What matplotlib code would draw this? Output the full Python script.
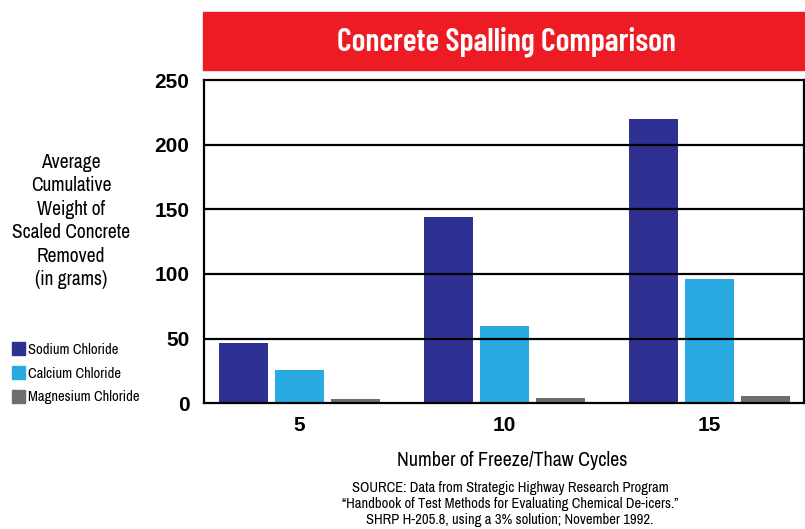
import matplotlib
matplotlib.use("Agg")
import numpy as np
import matplotlib.pyplot as plt
from matplotlib.patches import Rectangle

# data
cycles = ["5", "10", "15"]
sodium = [47, 144, 220]
calcium = [26, 60, 96]
magnesium = [3.3, 4.1, 5.6]
series_names = ["Sodium Chloride", "Calcium Chloride", "Magnesium Chloride"]
colors = ["#2E3192", "#29ABE2", "#6D6E71"]
yticks = [0, 50, 100, 150, 200, 250]

narrow = ["Archivo Narrow", "Liberation Sans", "DejaVu Sans"]
narrow_bold = ["Barlow Condensed", "PT Sans Narrow", "Liberation Sans", "DejaVu Sans"]
wide = ["Liberation Sans", "DejaVu Sans"]

fig = plt.figure(figsize=(8.05, 5.29), dpi=100)
ax = fig.add_axes([203.5 / 805, 1 - 403.3 / 529, 600.5 / 805, 323.3 / 529])

x = np.arange(len(cycles))
width = 0.239
step = 0.273
for i, vals in enumerate([sodium, calcium, magnesium]):
    ax.bar(x + (i - 1) * step, vals, width, color=colors[i], zorder=1)

ax.set_xlim(-0.467, 2.461)
ax.set_ylim(0, 250)
ax.set_yticks(yticks)
ax.set_yticklabels([str(v) for v in yticks], fontsize=15, fontweight="bold", family=wide)
ax.set_xticks(x)
ax.set_xticklabels(cycles, fontsize=15, fontweight="bold", family=wide)
ax.tick_params(length=0)
ax.tick_params(axis="y", pad=10)
ax.tick_params(axis="x", pad=9)

for v in yticks[1:-1]:
    ax.axhline(v, color="black", lw=1.6, zorder=2)
for s in ax.spines.values():
    s.set_linewidth(1.6)
    s.set_color("black")

# red title banner
fig.patches.append(Rectangle((203 / 805, 1 - 70 / 529), 602 / 805, 58 / 529,
                             transform=fig.transFigure, color="#ED1C24", zorder=0))
fig.text(506 / 805, 1 - 42 / 529, "Concrete Spalling Comparison", color="white",
         fontsize=23, fontweight="semibold", family=narrow_bold, ha="center", va="center")

# y label block
ylab = "Average\nCumulative\nWeight of\nScaled Concrete\nRemoved\n(in grams)"
fig.text(71 / 805, 1 - 221 / 529, ylab, fontsize=14, family=narrow,
         ha="center", va="center", linespacing=1.3)

# legend on the left
for i, name in enumerate(series_names):
    yc = 348.5 + i * 24
    fig.patches.append(Rectangle((12 / 805, 1 - (yc + 6.5) / 529), 13 / 805, 13 / 529,
                                 transform=fig.transFigure, color=colors[i]))
    fig.text(28 / 805, 1 - (yc + 1) / 529, name, fontsize=10.5, family=narrow,
             ha="left", va="center")

fig.text(512 / 805, 1 - 460 / 529, "Number of Freeze/Thaw Cycles", fontsize=14.4,
         family=narrow, ha="center", va="center")
source = ("SOURCE: Data from Strategic Highway Research Program\n"
          "\u201cHandbook of Test Methods for Evaluating Chemical De-icers.\u201d\n"
          "SHRP H-205.8, using a 3% solution; November 1992.")
fig.text(510 / 805, 1 - 504 / 529, source, fontsize=10.5, family=narrow,
         ha="center", va="center", linespacing=1.15)

fig.savefig("out.png", dpi=100)
